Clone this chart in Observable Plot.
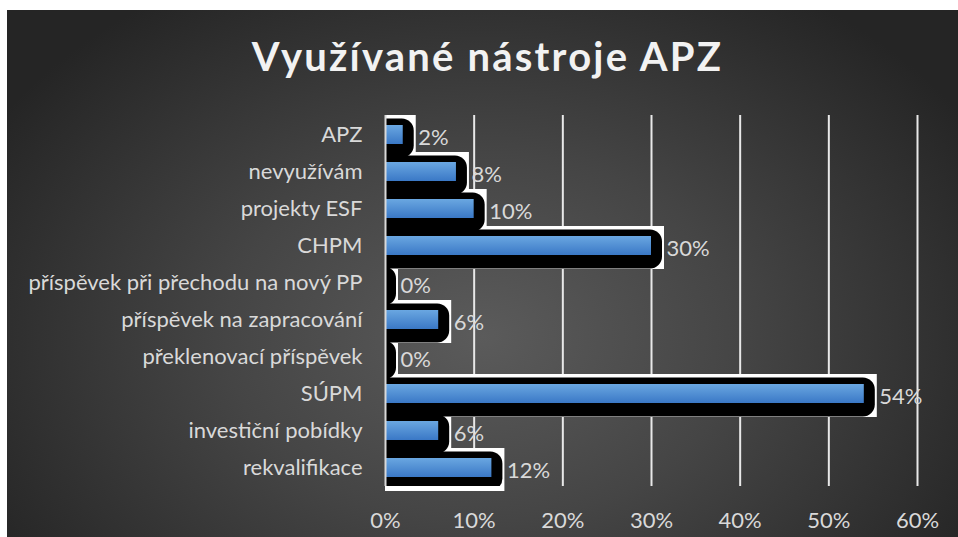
<!DOCTYPE html>
<html>
<head>
<meta charset="utf-8">
<script src="https://cdn.jsdelivr.net/npm/d3@7"></script>
<script src="https://cdn.jsdelivr.net/npm/@observablehq/plot@0.6"></script>
<style>
  html, body { margin: 0; padding: 0; background: #ffffff; }
  #page { position: relative; width: 958px; height: 537px; overflow: hidden; background: #ffffff; }
  #bg { position: absolute; left: 7px; top: 10px; width: 951px; height: 527px;
        background: radial-gradient(ellipse 60% 78% at 50% 62%, #5b5b5b 0%, #454545 45%, #252525 100%); }
  #title { position: absolute; left: 0; top: 36px; width: 975px; text-align: center;
           font-family: Lato, sans-serif; font-weight: 700; font-size: 40px; line-height: 40px;
           letter-spacing: 2.2px; color: #f2f2f2; }
  #chart { position: absolute; left: 0; top: 100px; }
</style>
</head>
<body>
<div id="page">
  <div id="bg"></div>
  <div id="title">Využívané nástroje APZ</div>
  <div id="chart"></div>
</div>
<script>
const categories = [
  "APZ",
  "nevyužívám",
  "projekty ESF",
  "CHPM",
  "příspěvek při přechodu na nový PP",
  "příspěvek na zapracování",
  "překlenovací příspěvek",
  "SÚPM",
  "investiční pobídky",
  "rekvalifikace"
];
const values = [2, 8, 10, 30, 0, 6, 0, 54, 6, 12];
const xTicks = [0, 10, 20, 30, 40, 50, 60];

const data = categories.map((c, i) => ({category: c, value: values[i]}));

const chart = Plot.plot({
  width: 958,
  height: 437,
  marginLeft: 385,
  marginRight: 41,
  marginTop: 15,
  marginBottom: 51,
  style: {background: "transparent", fontFamily: "Lato, sans-serif", fontSize: "22px", color: "#d9d9d9", overflow: "visible"},
  x: {domain: [0, 60], ticks: xTicks, tickFormat: d => d + "%", label: null, tickSize: 0, tickPadding: 26},
  y: {domain: categories, padding: 0, label: null, tickSize: 0, tickPadding: 23},
  marks: [
    Plot.ruleX(xTicks.filter(d => d > 0), {stroke: "#e8e8e8", strokeWidth: 2}),
    Plot.barX(data, {y: "category", x1: 0, x2: "value", fill: "#ffffff", insetTop: -1, insetBottom: -5, insetRight: -13}),
    Plot.barX(data, {y: "category", x1: 0, x2: "value", fill: "#000000", insetTop: 2.5, insetBottom: -4.5, insetRight: -11, insetLeft: -14, rx: 12, clip: true}),
    Plot.barX(data, {y: "category", x1: 0, x2: "value", fill: "url(#blueGrad)", insetTop: 9, insetBottom: 9}),
    Plot.ruleX([0], {stroke: "#d9d9d9", strokeWidth: 2}),
    Plot.text(data, {y: "category", x: "value", text: d => d.value + "%", dx: 15, dy: 3, textAnchor: "start", fill: "#d9d9d9", fontSize: 22})
  ]
});

const defs = d3.create("svg:defs");
const grad = defs.append("linearGradient").attr("id", "blueGrad").attr("x1", 0).attr("y1", 0).attr("x2", 0).attr("y2", 1);
grad.append("stop").attr("offset", "0%").attr("stop-color", "#6aa7e1");
grad.append("stop").attr("offset", "100%").attr("stop-color", "#3a78c6");
chart.insertBefore(defs.node(), chart.firstChild);

document.getElementById("chart").appendChild(chart);
</script>
</body>
</html>
